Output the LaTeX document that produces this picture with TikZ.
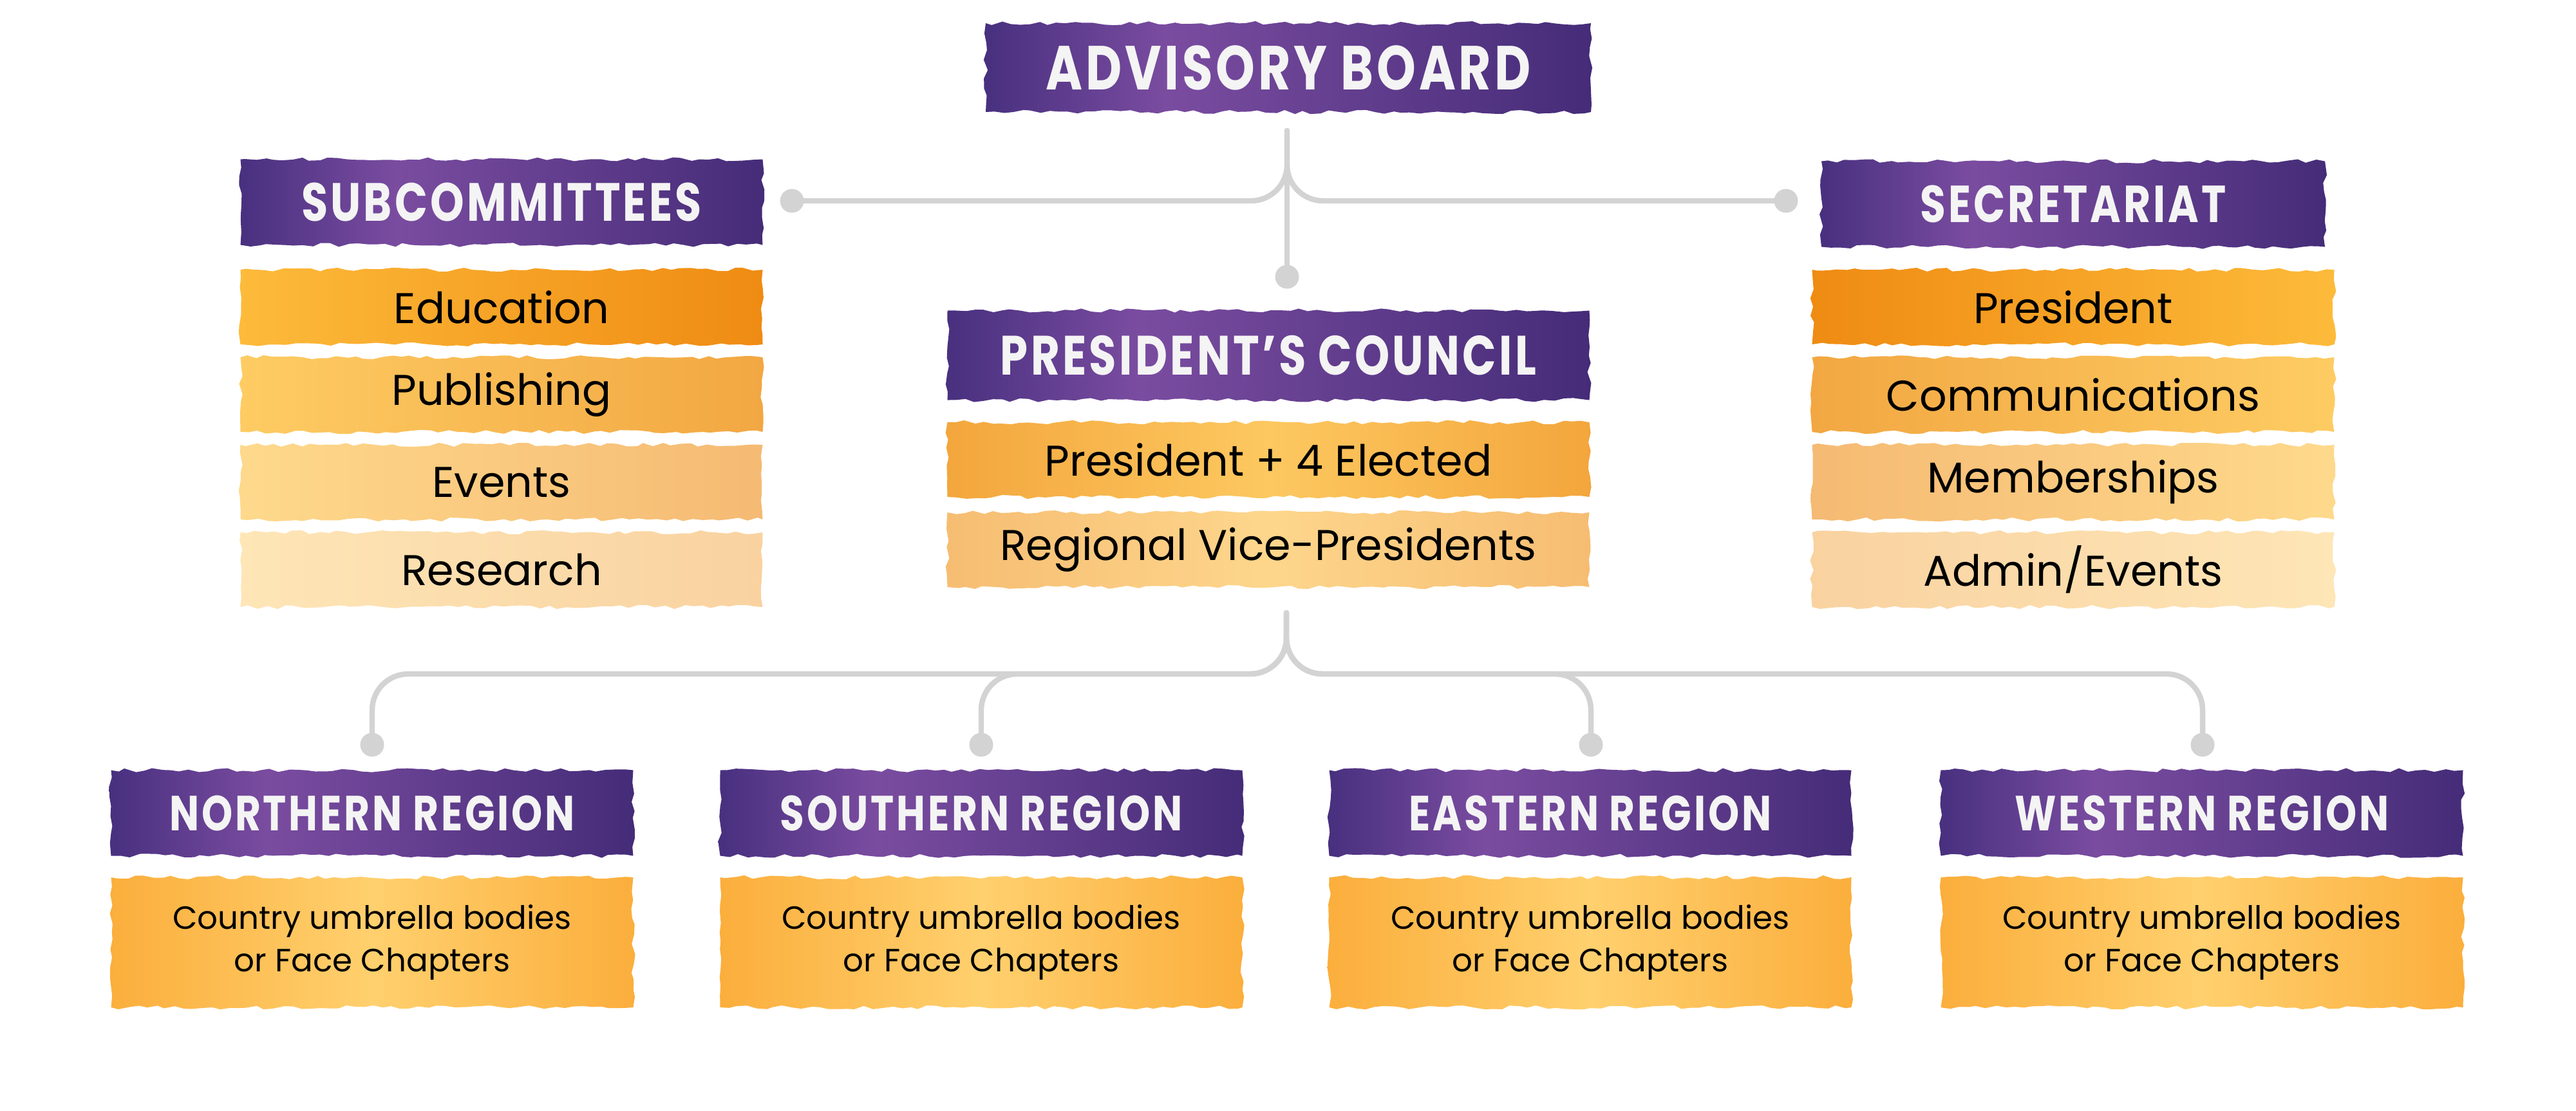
\documentclass[tikz,border=0pt]{standalone}
\usepackage{fontspec}
\setmainfont{Poppins}
\newfontfamily\headfont{Poppins}[FakeStretch=0.8,LetterSpace=5]
\usetikzlibrary{decorations.pathmorphing}

\definecolor{pdark}{HTML}{48307F}
\definecolor{plight}{HTML}{7A4CA0}
\definecolor{pdeep}{HTML}{452C78}
\definecolor{headwhite}{HTML}{F4F4F4}
\definecolor{conngray}{HTML}{D3D3D3}
\definecolor{oranA}{HTML}{FDBB3B}
\definecolor{oranAd}{HTML}{EF8B12}
\definecolor{oranB}{HTML}{FECC63}
\definecolor{oranBd}{HTML}{F2A742}
\definecolor{oranC}{HTML}{FED98C}
\definecolor{oranCd}{HTML}{F5BA73}
\definecolor{oranD}{HTML}{FEE6B7}
\definecolor{oranDd}{HTML}{F9D2A0}
\definecolor{elecEdge}{HTML}{F3A63C}
\definecolor{elecMid}{HTML}{FDC860}
\definecolor{viceEdge}{HTML}{F6BD72}
\definecolor{viceMid}{HTML}{FDD68C}
\definecolor{regEdge}{HTML}{FBAE3C}
\definecolor{regMid}{HTML}{FFD06E}
\pgfdeclarehorizontalshading{purplebrush}{100bp}{color(0bp)=(pdark); color(25bp)=(pdark); color(40bp)=(plight); color(75bp)=(pdeep); color(100bp)=(pdeep)}

\tikzset{
  brush/.style={decorate, decoration={random steps, segment length=4pt, amplitude=0.9pt}, inner sep=0pt, align=center, minimum width=8.11cm, minimum height=1.16cm},
  headbrush/.style={brush, shade, shading=purplebrush, text=headwhite, minimum height=1.33cm, font=\headfont\bfseries\fontsize{23}{24}\selectfont},
  regionhead/.style={headbrush, font=\headfont\bfseries\fontsize{21.8}{23}\selectfont},
  itembrush/.style 2 args={brush, left color=#1, right color=#2, font=\fontsize{19}{22}\selectfont},
  midbrush/.style 2 args={brush, left color=#1, right color=#1, middle color=#2, font=\fontsize{19}{22}\selectfont},
  regionbrush/.style={brush, left color=regEdge, right color=regEdge, middle color=regMid, minimum height=2.02cm, font=\fontsize{14.2}{19}\selectfont},
  conn/.style={draw=conngray, line width=2.4pt, line cap=round, rounded corners=0.56cm},
  knob/.style={circle, fill=conngray, inner sep=0pt, minimum size=0.37cm}
}

\begin{document}
\begin{tikzpicture}
\pgfmathsetseed{7}
\useasboundingbox (0,0) rectangle (40.01,-17.25);

% top level
\node[headbrush, minimum width=9.4cm, minimum height=1.38cm, font=\headfont\bfseries\fontsize{27.5}{29}\selectfont] at (20.01,-1.05) (adv) {ADVISORY BOARD};
\node[headbrush, font=\headfont\bfseries\fontsize{23.8}{25}\selectfont] at (7.79,-3.14) (subc) {SUBCOMMITTEES};
\node[headbrush, minimum width=7.82cm] at (32.20,-3.17) (sec) {SECRETARIAT};
\node[headbrush, minimum width=9.97cm, minimum height=1.39cm, font=\headfont\bfseries\fontsize{24.5}{26}\selectfont] at (19.70,-5.52) (council) {PRESIDENT’S COUNCIL};

% subcommittees
\node[itembrush={oranA}{oranAd}] at (7.79,-4.77) (edu) {Education};
\node[itembrush={oranB}{oranBd}] at (7.79,-6.13) (pub) {Publishing};
\node[itembrush={oranC}{oranCd}] at (7.79,-7.49) (evt) {Events};
\node[itembrush={oranD}{oranDd}] at (7.79,-8.85) (res) {Research};

% secretariat
\node[itembrush={oranAd}{oranA}] at (32.20,-4.77) (pres) {President};
\node[itembrush={oranBd}{oranB}] at (32.20,-6.13) (comm) {Communications};
\node[itembrush={oranCd}{oranC}] at (32.20,-7.49) (memb) {Memberships};
\node[itembrush={oranDd}{oranD}] at (32.20,-8.85) (admin) {Admin/Events};

% council
\node[midbrush={elecEdge}{elecMid}, minimum width=9.97cm] at (19.70,-7.14) (elect) {President + 4 Elected};
\node[midbrush={viceEdge}{viceMid}, minimum width=9.97cm] at (19.70,-8.54) (vice) {Regional Vice-Presidents};

% regions
\node[regionhead] at (5.78,-12.63) (north) {NORTHERN REGION};
\node[regionhead] at (15.24,-12.63) (south) {SOUTHERN REGION};
\node[regionhead] at (24.70,-12.63) (east) {EASTERN REGION};
\node[regionhead] at (34.20,-12.63) (west) {WESTERN REGION};
\node[regionbrush] at (5.78,-14.64) (northbody) {Country umbrella bodies\\or Face Chapters};
\node[regionbrush] at (15.24,-14.64) (southbody) {Country umbrella bodies\\or Face Chapters};
\node[regionbrush] at (24.70,-14.64) (eastbody) {Country umbrella bodies\\or Face Chapters};
\node[regionbrush] at (34.20,-14.64) (westbody) {Country umbrella bodies\\or Face Chapters};

% connectors, top
\coordinate (advtail) at (19.99,-2.03);
\node[knob] at (12.30,-3.12) (kl) {};
\node[knob] at (27.74,-3.12) (kr) {};
\node[knob] at (19.99,-4.30) (kc) {};
\draw[conn] (kl) -| (advtail);
\draw[conn] (kr) -| (advtail);
\draw[conn] (advtail) -- (kc);

% connectors, bottom
\coordinate (pctail) at (19.98,-9.52);
\coordinate (nbend) at (5.78,-10.47);
\coordinate (sbend) at (15.24,-10.47);
\coordinate (ebend) at (24.71,-10.47);
\coordinate (wbend) at (34.21,-10.47);
\node[knob] at (5.78,-11.57) (kn) {};
\node[knob] at (15.24,-11.57) (ks) {};
\node[knob] at (24.71,-11.57) (ke) {};
\node[knob] at (34.21,-11.57) (kw) {};
\draw[conn] (pctail) |- (nbend) -- (kn);
\draw[conn] (pctail) |- (sbend) -- (ks);
\draw[conn] (pctail) |- (ebend) -- (ke);
\draw[conn] (pctail) |- (wbend) -- (kw);
\end{tikzpicture}
\end{document}
